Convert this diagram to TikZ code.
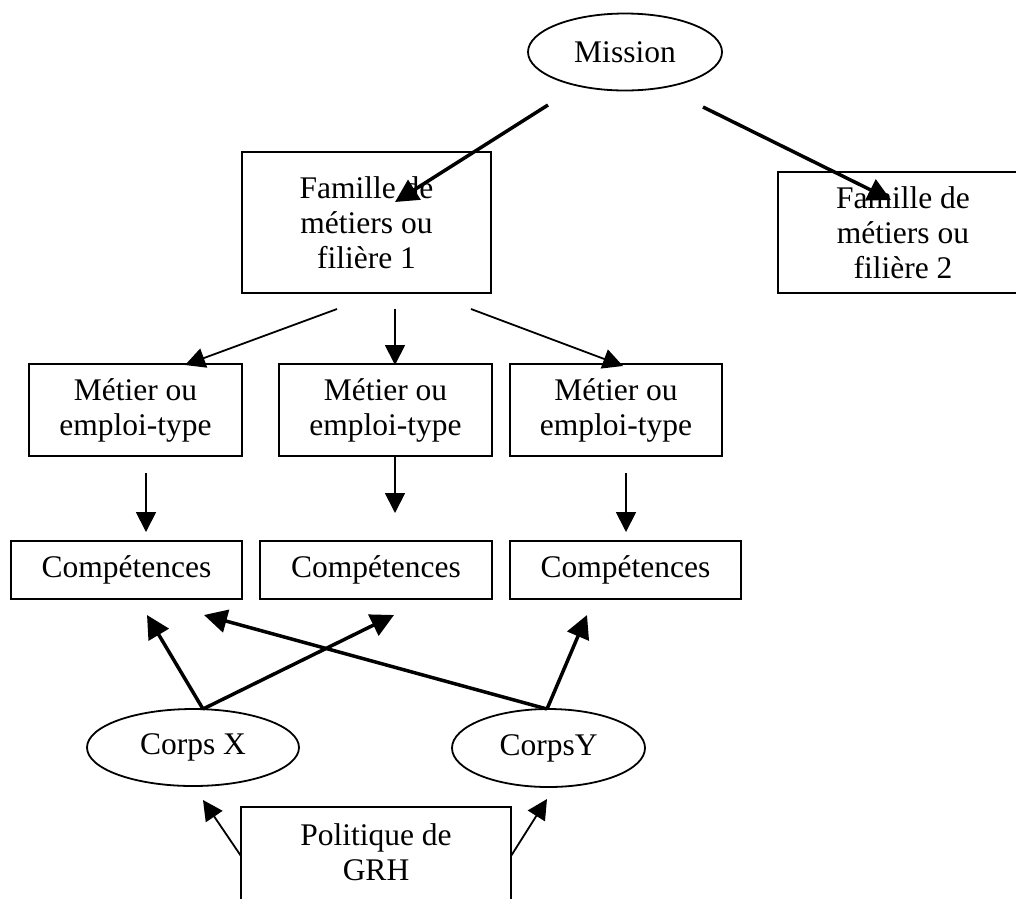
\documentclass[tikz,border=0pt]{standalone}
\usepackage{fontspec}
\setmainfont{Liberation Serif}
\usetikzlibrary{arrows.meta,shapes.geometric}
\begin{document}
\begin{tikzpicture}[x=1pt,y=-1pt,
  every node/.style={font=\fontsize{31.5}{35}\selectfont},
  box/.style={draw, line width=1.8pt, inner sep=0pt, align=center},
  oval/.style={draw, ellipse, line width=1.8pt, inner sep=0pt},
  txt/.style={inner sep=0pt, align=center},
  bigarr/.style={line width=3.5pt, -{Triangle[length=23pt,width=23pt]}},
  smallarr/.style={line width=1.8pt, -{Triangle[length=20pt,width=20pt]}}]
\useasboundingbox (0,0) rectangle (1016,898);

% nodes
\node[oval, minimum width=194pt, minimum height=77pt] (mission) at (625,52) {Mission};
\node[box, minimum width=249pt, minimum height=141pt] (f1) at (366.5,222.5) {Famille de\\métiers ou\\filière 1};
\node[box, minimum width=250pt, minimum height=121pt] (f2) at (903,232.5) {Famille de\\métiers ou\\filière 2};

\node[box, minimum width=213pt, minimum height=92pt] (m1) at (135.5,410) {Métier ou\\emploi-type};
\node[box, minimum width=213pt, minimum height=92pt] (m2) at (385.5,410) {Métier ou\\emploi-type};
\node[box, minimum width=212pt, minimum height=92pt] (m3) at (616,410) {Métier ou\\emploi-type};

\node[box, minimum width=231pt, minimum height=58pt] (c1) at (126.5,570) {Compétences};
\node[box, minimum width=232pt, minimum height=58pt] (c2) at (376,570) {Compétences};
\node[box, minimum width=231pt, minimum height=58pt] (c3) at (625.5,570) {Compétences};

\node[oval, minimum width=212pt, minimum height=77pt] (cx) at (193,747.5) {Corps X};
\node[oval, minimum width=193pt, minimum height=78pt] (cy) at (548.5,748) {CorpsY};

\node[box, anchor=north, minimum width=270pt, minimum height=200pt] (grh) at (376,806) {};
\node[txt] (grht) at (376,852) {Politique de\\GRH};

% connector end points
\coordinate (m1s) at (548,105);  \coordinate (m1e) at (395,202);
\coordinate (m2s) at (703,107);  \coordinate (m2e) at (891,200);
\coordinate (a1s) at (337,309);  \coordinate (a1e) at (185,365);
\coordinate (a2s) at (395,309);  \coordinate (a2e) at (395,365);
\coordinate (a3s) at (471,309);  \coordinate (a3e) at (623,366);
\coordinate (b1s) at (146,473);  \coordinate (b1e) at (146,532);
\coordinate (b2s) at (395,456);  \coordinate (b2e) at (395,513);
\coordinate (b3s) at (626,473);  \coordinate (b3e) at (626,532);
\coordinate (cxs) at (203,709);  \coordinate (cys) at (547,709);
\coordinate (k1e) at (147,615);  \coordinate (k2e) at (394,615);
\coordinate (k3e) at (204,615);  \coordinate (k4e) at (587,615);
\coordinate (g1s) at (241,856);  \coordinate (g1e) at (203,800);
\coordinate (g2s) at (511,856);  \coordinate (g2e) at (547,799);

% connectors
\draw[bigarr] (m1s) -- (m1e);
\draw[bigarr] (m2s) -- (m2e);
\draw[smallarr] (a1s) -- (a1e);
\draw[smallarr] (a2s) -- (a2e);
\draw[smallarr] (a3s) -- (a3e);
\draw[smallarr] (b1s) -- (b1e);
\draw[smallarr] (b2s) -- (b2e);
\draw[smallarr] (b3s) -- (b3e);
\draw[bigarr] (cxs) -- (k1e);
\draw[bigarr] (cxs) -- (k2e);
\draw[bigarr] (cys) -- (k3e);
\draw[bigarr] (cys) -- (k4e);
\draw[smallarr] (g1s) -- (g1e);
\draw[smallarr] (g2s) -- (g2e);
\end{tikzpicture}
\end{document}
